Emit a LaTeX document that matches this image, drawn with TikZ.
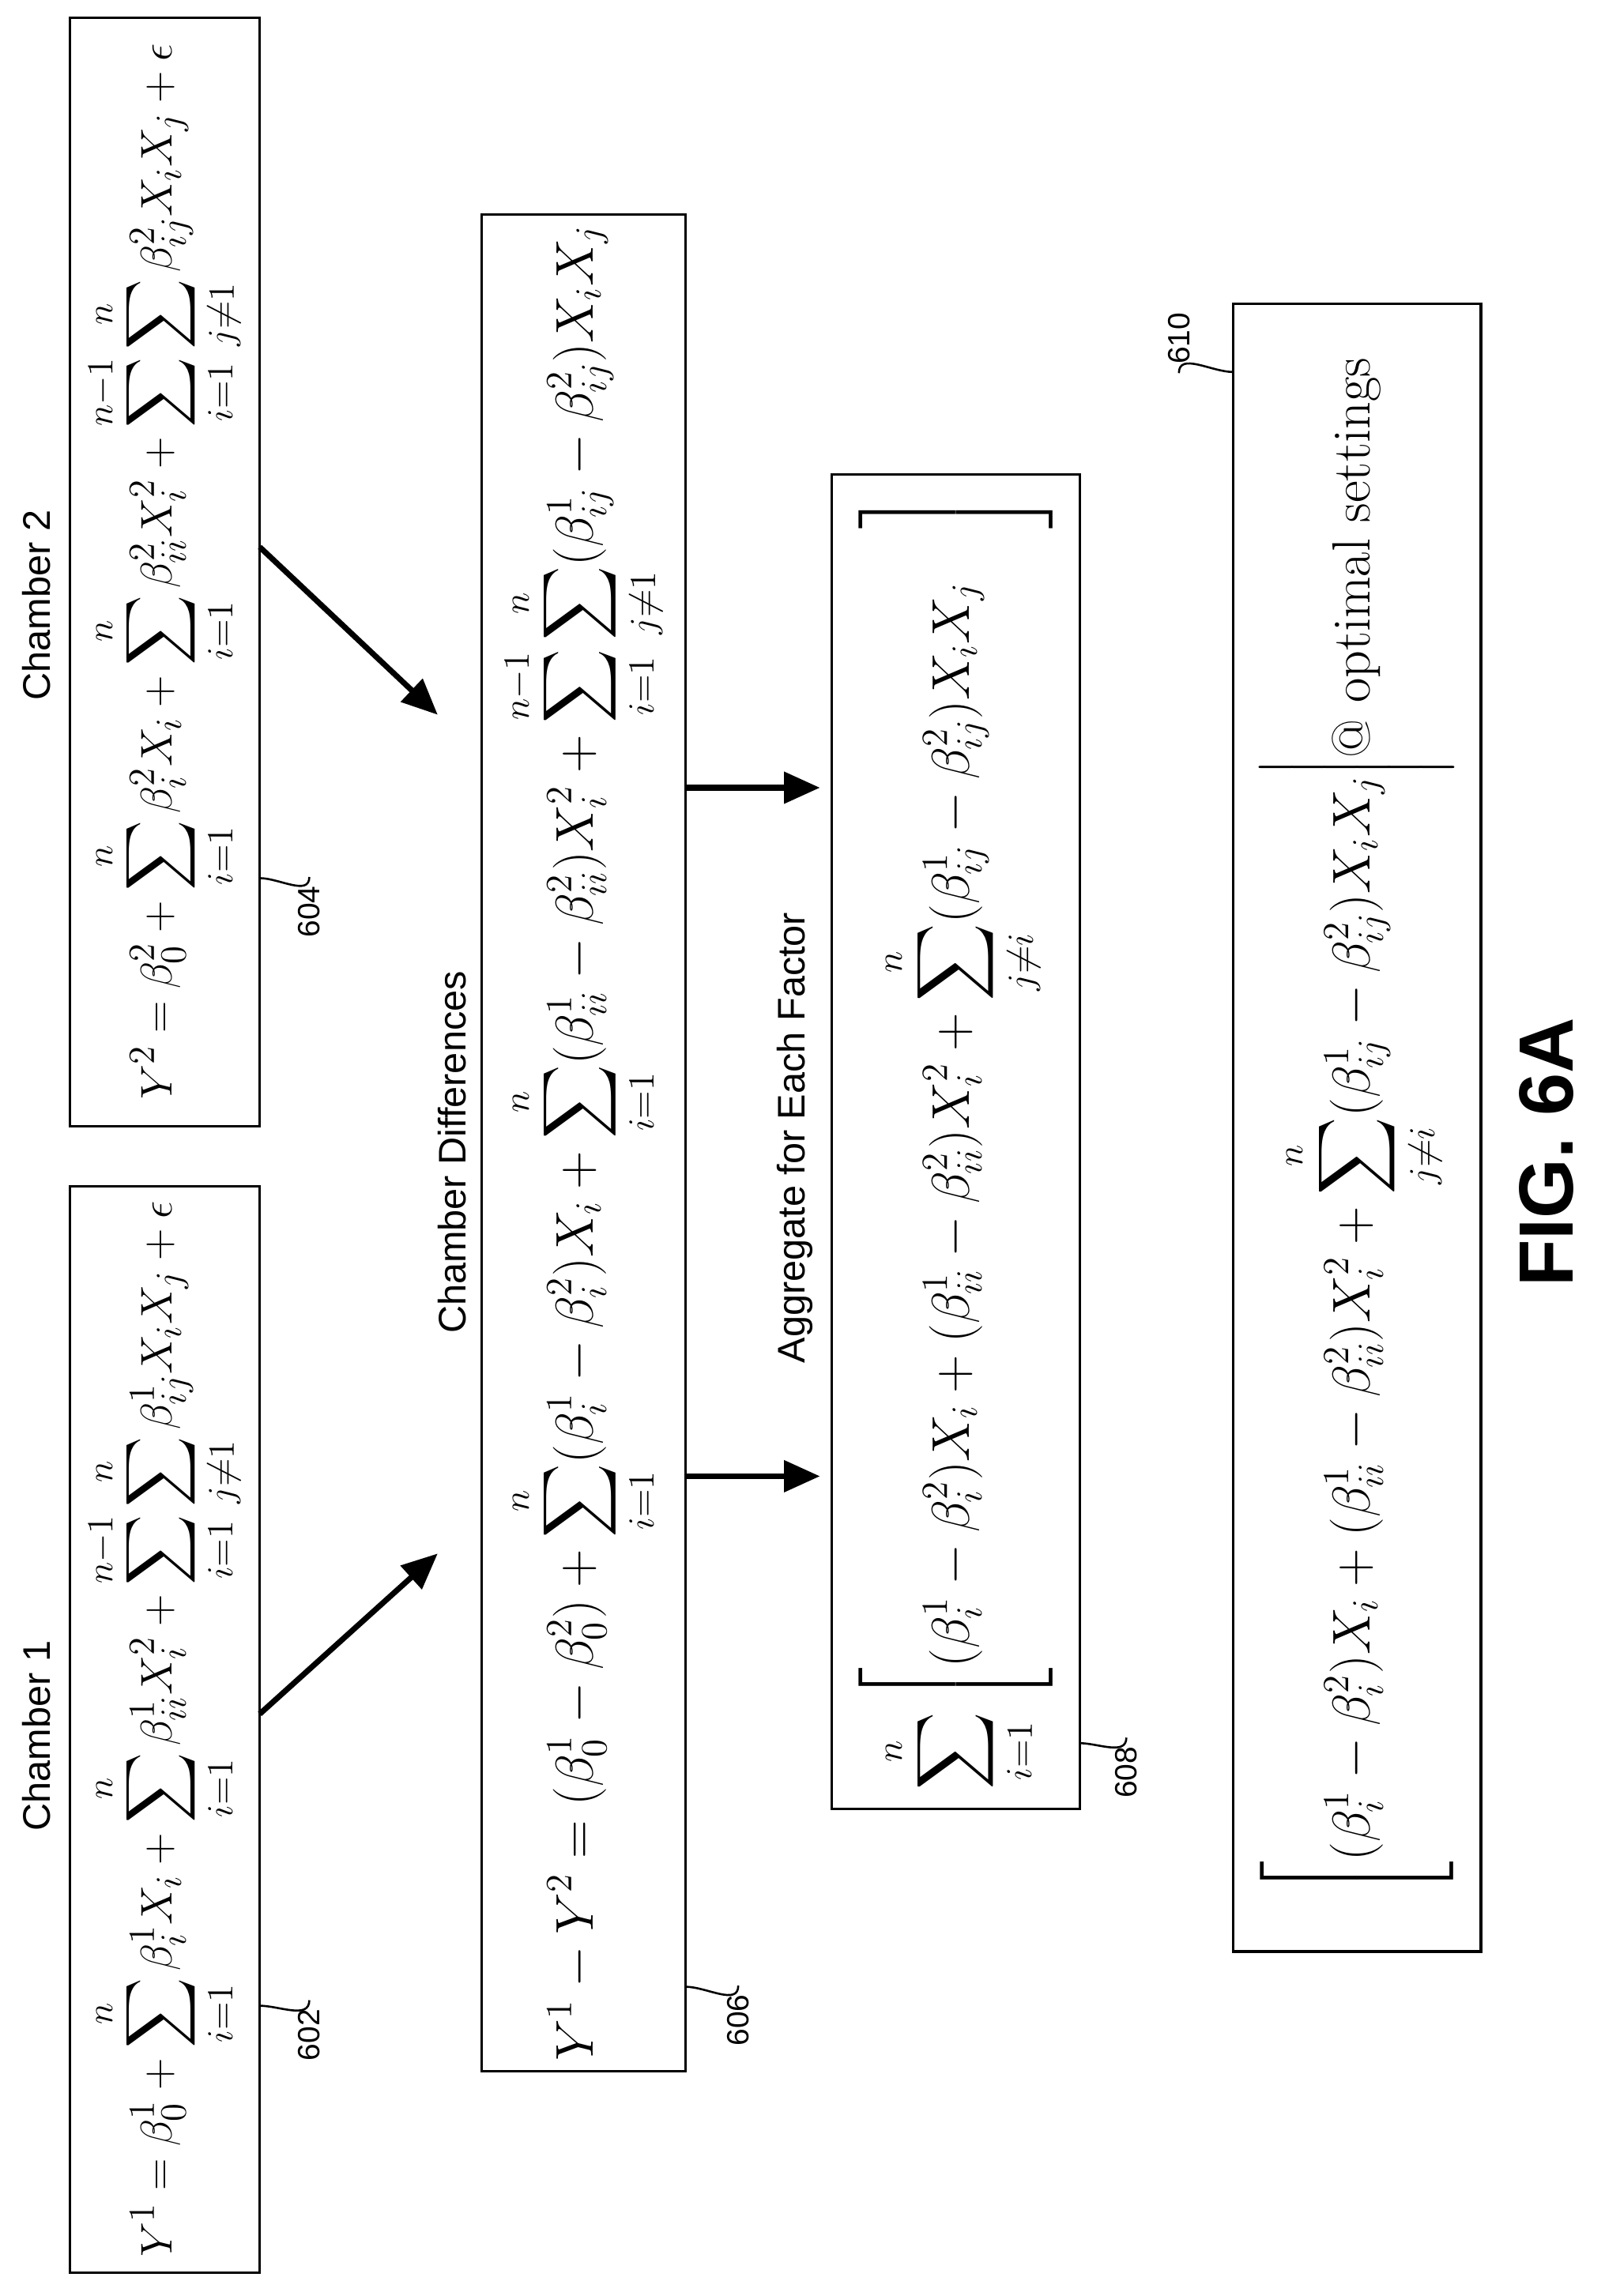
\documentclass[tikz,border=0pt]{standalone}
\usepackage{amsmath,amssymb}
\usepackage{fontspec}
\setsansfont{Liberation Sans}
\usetikzlibrary{arrows.meta}
\begin{document}
\begin{tikzpicture}[x=0.02cm,y=-0.02cm]
\tikzstyle{eqbox} = [draw=black, line width=1pt, rotate=90, inner sep=0pt,
  font=\fontsize{21}{24}\selectfont]
\tikzstyle{small eq} = [font=\fontsize{19}{22}\selectfont]
\tikzstyle{title} = [rotate=90, font=\sffamily\fontsize{15}{18}\selectfont]
\tikzstyle{refnum} = [rotate=90, font=\sffamily\fontsize{12}{14}\selectfont]
\tikzstyle{flow} = [-{Triangle[length=14pt,width=12pt]}, line width=2.2pt]
\tikzstyle{leader} = [line width=0.8pt]
\useasboundingbox (0,0) rectangle (1100,1574);

% equation boxes
\node[eqbox, small eq, minimum width=14.9cm, minimum height=2.6cm] (b602) at (113,1185.5)
  {$\displaystyle Y^1=\beta_0^1+\sum_{i=1}^{n}\beta_i^1X_i+\sum_{i=1}^{n}\beta_{ii}^1X_i^2+\sum_{i=1}^{n-1}\sum_{j\neq1}^{n}\beta_{ij}^1X_iX_j+\epsilon$};
\node[eqbox, small eq, minimum width=15.2cm, minimum height=2.6cm] (b604) at (113,392)
  {$\displaystyle Y^2=\beta_0^2+\sum_{i=1}^{n}\beta_i^2X_i+\sum_{i=1}^{n}\beta_{ii}^2X_i^2+\sum_{i=1}^{n-1}\sum_{j\neq1}^{n}\beta_{ij}^2X_iX_j+\epsilon$};
\node[eqbox, font=\fontsize{20}{23}\selectfont, minimum width=25.46cm, minimum height=2.8cm] (b606) at (400,783.5)
  {$\displaystyle Y^1-Y^2=(\beta_0^1-\beta_0^2)+\sum_{i=1}^{n}(\beta_i^1-\beta_i^2)X_i+\sum_{i=1}^{n}(\beta_{ii}^1-\beta_{ii}^2)X_i^2+\sum_{i=1}^{n-1}\sum_{j\neq1}^{n}(\beta_{ij}^1-\beta_{ij}^2)X_iX_j$};
\node[eqbox, minimum width=18.3cm, minimum height=3.4cm] (b608) at (655,782.5)
  {$\displaystyle \sum_{i=1}^{n}\left[(\beta_i^1-\beta_i^2)X_i+(\beta_{ii}^1-\beta_{ii}^2)X_i^2+\sum_{j\neq i}^{n}(\beta_{ij}^1-\beta_{ij}^2)X_iX_j\quad\right]$};
\node[eqbox, minimum width=22.6cm, minimum height=3.4cm] (b610) at (930,773)
  {$\displaystyle \left[(\beta_i^1-\beta_i^2)X_i+(\beta_{ii}^1-\beta_{ii}^2)X_i^2+\sum_{j\neq i}^{n}(\beta_{ij}^1-\beta_{ij}^2)X_iX_j\right|$@ optimal settings};

% titles
\node[title] (t1) at (25,1190) {Chamber 1};
\node[title] (t2) at (25,415) {Chamber 2};
\node[title] (t3) at (310,790) {Chamber Differences};
\node[title] (t4) at (545,780) {Aggregate for Each Factor};
\node[rotate=90, font=\sffamily\bfseries\fontsize{30}{34}\selectfont] (fig) at (1060,790) {FIG. 6A};

% reference numbers
\node[refnum] (n602) at (212,1395) {602};
\node[refnum] (n604) at (212,625) {604};
\node[refnum] (n606) at (506,1385) {606};
\node[refnum] (n608) at (772,1215) {608};
\node[refnum] (n610) at (808,232) {610};
\coordinate (e602) at (178,1375);
\coordinate (e604) at (178,602);
\coordinate (e606) at (470,1362);
\coordinate (e608) at (740,1195);
\coordinate (e610) at (845,255);
\draw[leader] (e602) to[out=0,in=-90] (n602.east);
\draw[leader] (e604) to[out=0,in=-90] (n604.east);
\draw[leader] (e606) to[out=0,in=-90] (n606.east);
\draw[leader] (e608) to[out=0,in=-90] (n608.east);
\draw[leader] (n610.west) to[out=90,in=180] (e610);

% arrows
\coordinate (a1) at (178,1175);
\coordinate (a2) at (300,1065);
\coordinate (a3) at (178,375);
\coordinate (a4) at (300,490);
\coordinate (a5) at (470,1012);
\coordinate (a6) at (562,1012);
\coordinate (a7) at (470,540);
\coordinate (a8) at (562,540);
\draw[flow] (a1) -- (a2);
\draw[flow] (a3) -- (a4);
\draw[flow] (a5) -- (a6);
\draw[flow] (a7) -- (a8);
\end{tikzpicture}
\end{document}
